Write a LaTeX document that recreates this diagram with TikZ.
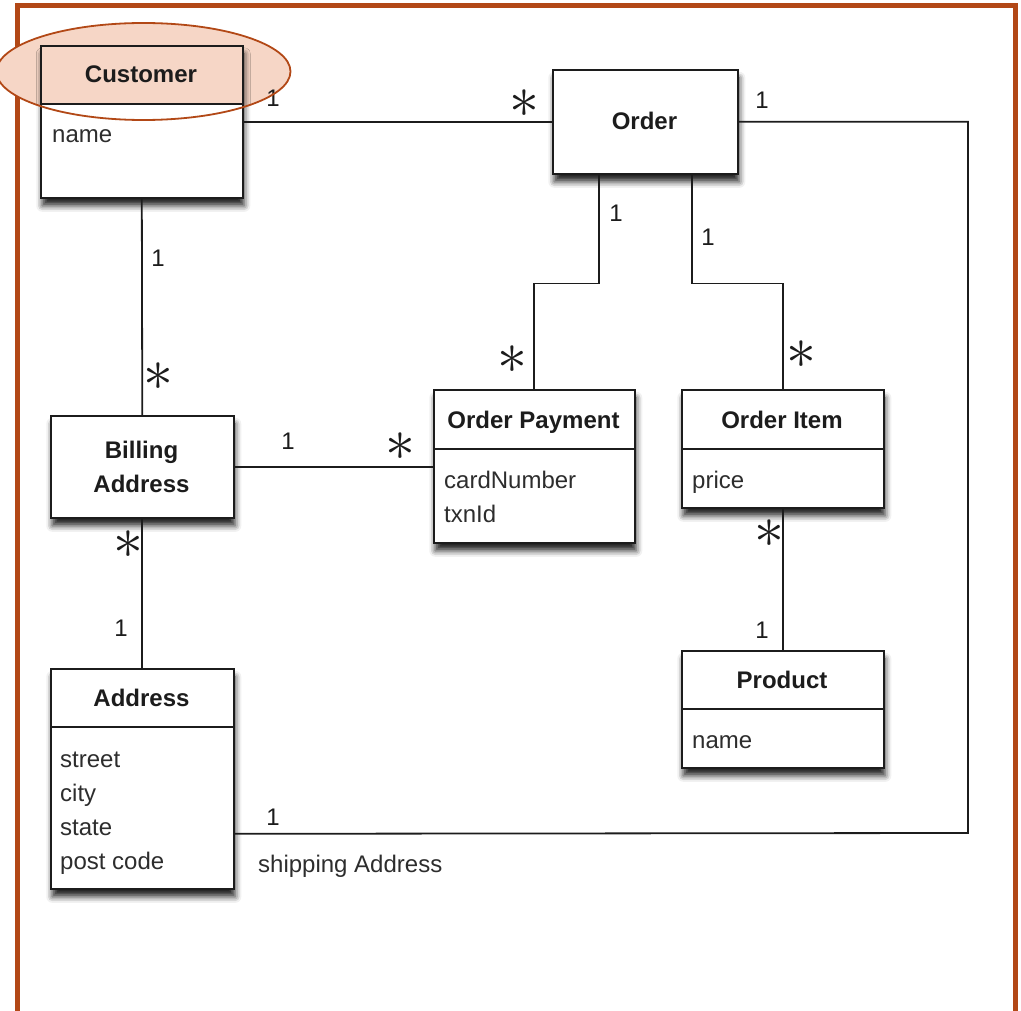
\documentclass[tikz,border=0pt]{standalone}
\usepackage{fontspec}
\setmainfont{Liberation Sans}
\usepackage{graphicx}
\usetikzlibrary{shadows.blur}

\definecolor{rust}{RGB}{178,72,22}
\definecolor{peach}{RGB}{246,214,198}
\definecolor{ink}{RGB}{28,28,28}
\definecolor{attrink}{RGB}{45,45,45}

\newcommand{\manyglyph}{\scalebox{2.4}{$\ast$}}

\tikzset{
  classbox/.style={rectangle, draw=ink, line width=1.6pt, fill=white,
    inner sep=0pt, anchor=north west,
    blur shadow={shadow xshift=1.5pt, shadow yshift=-8pt,
      shadow blur radius=6pt, shadow opacity=85}},
  headfill/.style={path picture={\fill[peach] (path picture bounding box.north west)
      rectangle ([yshift=-#1pt]path picture bounding box.north east);}},
  divider/.style={draw=ink, line width=1.6pt},
  link/.style={draw=ink, line width=1.8pt},
  title/.style={font=\fontsize{24}{34}\selectfont\bfseries, text=ink, inner sep=0pt, anchor=base},
  attr/.style={font=\fontsize{24}{28}\selectfont, text=attrink, inner sep=0pt, anchor=base west},
  mult/.style={font=\fontsize{24}{28}\selectfont, text=ink, inner sep=0pt},
  frame/.style={draw=rust, line width=5pt},
  highlight/.style={draw=rust, line width=1.8pt}
}

\begin{document}
\begin{tikzpicture}[x=1pt, y=-1pt]
\useasboundingbox (0,0) rectangle (1021,1011);

% outer frame, open at the bottom
\draw[frame] (17.5,1015) -- (17.5,6) -- (1015,6) -- (1015,1015);

% highlight behind the Customer class
\fill[peach] (143.5,71.5) ellipse [x radius=147, y radius=48.5];

% class boxes
\node[classbox, headfill=59, minimum width=202pt, minimum height=152pt] (cust) at (40,45) {};
\node[classbox, minimum width=185pt, minimum height=104pt] (order) at (552,69) {};
\node[classbox, minimum width=201pt, minimum height=153pt] (pay) at (433,389) {};
\node[classbox, minimum width=202pt, minimum height=118pt] (item) at (681,389) {};
\node[classbox, minimum width=202pt, minimum height=117pt] (prod) at (681,650) {};
\node[classbox, minimum width=183pt, minimum height=102pt] (bill) at (50,415) {};
\node[classbox, minimum width=183pt, minimum height=220pt] (addr) at (50,668) {};

% compartment dividers
\draw[divider] ([yshift=-59pt]cust.north west) -- ([yshift=-59pt]cust.north east);
\draw[divider] ([yshift=-60pt]pay.north west) -- ([yshift=-60pt]pay.north east);
\draw[divider] ([yshift=-60pt]item.north west) -- ([yshift=-60pt]item.north east);
\draw[divider] ([yshift=-59pt]prod.north west) -- ([yshift=-59pt]prod.north east);
\draw[divider] ([yshift=-59pt]addr.north west) -- ([yshift=-59pt]addr.north east);

% class names
\node[title] (custT) at (141,83) {Customer};
\node[title] (orderT) at (644.5,130) {Order};
\node[title] (payT) at (533.5,428) {Order Payment};
\node[title] (itemT) at (782,428) {Order Item};
\node[title] (prodT) at (782,688) {Product};
\node[title, align=center, anchor=center] (billT) at (141.5,466.5) {Billing\\Address};
\node[title] (addrT) at (141.5,706) {Address};

% attributes
\node[attr] (custA) at (52,143) {name};
\node[attr] (payA1) at (444,488) {cardNumber};
\node[attr] (payA2) at (444,522) {txnId};
\node[attr] (itemA) at (692,488) {price};
\node[attr] (prodA) at (692,748) {name};
\node[attr] (addrA1) at (60,767) {street};
\node[attr] (addrA2) at (60,801) {city};
\node[attr] (addrA3) at (60,835) {state};
\node[attr] (addrA4) at (60,869) {post code};

% associations
\coordinate (shipbend) at (968,833);
\draw[link] (cust.east) -- (order.west);
\draw[link] (cust.south) -- (bill.north);
\draw[link] (bill.south) -- (addr.north);
\draw[link] (bill.east) -- (bill.east -| pay.west);
\draw[link] (item.south) -- (prod.north);
\draw[link] ([xshift=-46.5pt]order.south) -- ++(0,109) -| (pay.north);
\draw[link] ([xshift=46.5pt]order.south) -- ++(0,109) -| (item.north);
\draw[link] (order.east) -| (shipbend) -- ([yshift=-55pt]addr.east);

% multiplicities
\node[mult] (m1) at (273,98) {1};
\node[mult] (m2) at (524,104) {\manyglyph};
\node[mult] (m3) at (762,100) {1};
\node[mult] (m4) at (616,213) {1};
\node[mult] (m5) at (708,237) {1};
\node[mult] (m6) at (512,360) {\manyglyph};
\node[mult] (m7) at (801,355) {\manyglyph};
\node[mult] (m8) at (158,258) {1};
\node[mult] (m9) at (158,377) {\manyglyph};
\node[mult] (m10) at (288,441) {1};
\node[mult] (m11) at (400,447) {\manyglyph};
\node[mult] (m12) at (128,545) {\manyglyph};
\node[mult] (m13) at (121,628) {1};
\node[mult] (m14) at (769,534) {\manyglyph};
\node[mult] (m15) at (762,630) {1};
\node[mult] (m16) at (273,817) {1};
\node[attr] (shipL) at (258,872) {shipping Address};

% highlight outline
\draw[highlight] (143.5,71.5) ellipse [x radius=147, y radius=48.5];
\end{tikzpicture}
\end{document}
